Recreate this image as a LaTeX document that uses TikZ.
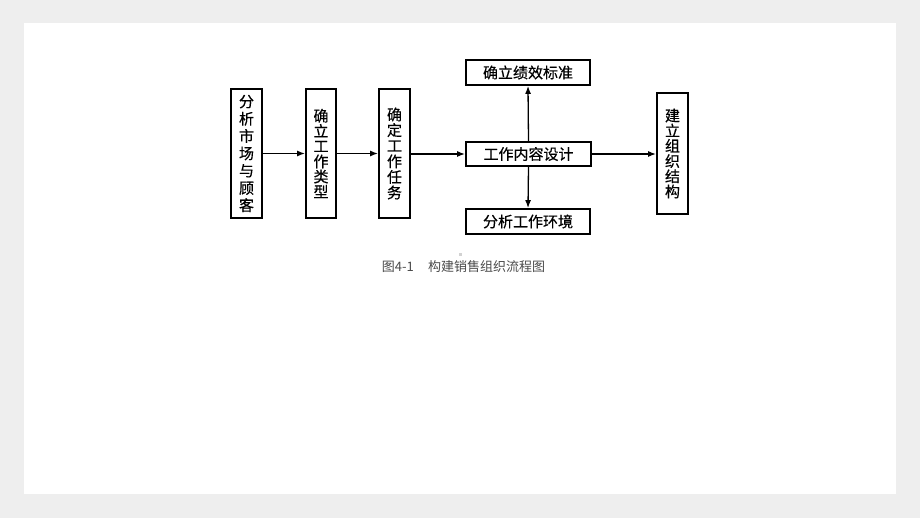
\documentclass[tikz,border=0pt]{standalone}
\usepackage{fontspec}
\setmainfont{Noto Sans CJK SC}
\newfontfamily\boxfont{Noto Sans CJK SC}[FakeBold=0.5]
\usetikzlibrary{arrows.meta}
\definecolor{bggray}{HTML}{EEEEEE}
\definecolor{capgray}{HTML}{4A4A4A}
\tikzset{
  box/.style={draw=black, line width=1.8pt, fill=white, inner sep=0pt, font=\boxfont\fontsize{15}{15}\selectfont, text=black},
  vbox/.style={box, align=center},
  conn/.style={line width=1.3pt, -{Latex[length=8pt,width=6pt]}},
}
\begin{document}
\begin{tikzpicture}[x=1pt,y=-1pt]
\fill[bggray] (0,0) rectangle (920,518);
\fill[white] (24,23) rectangle (896,494);
\useasboundingbox (0,0) rectangle (920,518);

\node[vbox, minimum width=31pt, minimum height=129pt, font=\boxfont\fontsize{15}{17.3}\selectfont] (market) at (246.5,153.5) {分\\析\\市\\场\\与\\顾\\客};
\node[vbox, minimum width=30pt, minimum height=129pt, font=\boxfont\fontsize{15}{15.2}\selectfont] (type) at (321,153.5) {确\\立\\工\\作\\类\\型};
\node[vbox, minimum width=31pt, minimum height=129pt, font=\boxfont\fontsize{15}{15.6}\selectfont] (task) at (394.5,153.5) {确\\定\\工\\作\\任\\务};
\node[box, minimum width=125pt, minimum height=24pt] (design) at (528.5,154) {工作内容设计};
\node[box, minimum width=124pt, minimum height=25pt] (std) at (528,72.5) {确立绩效标准};
\node[box, minimum width=124pt, minimum height=25pt] (env) at (528,221.5) {分析工作环境};
\node[vbox, minimum width=31pt, minimum height=121pt, font=\boxfont\fontsize{15}{15.2}\selectfont] (org) at (672.5,153.5) {建\\立\\组\\织\\结\\构};

\draw[conn] (market.east |- 0,153.5) -- (type.west |- 0,153.5);
\draw[conn] (type.east |- 0,153.5) -- (task.west |- 0,153.5);
\draw[conn] (task.east |- design.west) -- (design.west);
\draw[conn] (design.east) -- (org.west |- design.east);
\draw[conn] (design.north) -- (std.south);
\draw[conn] (design.south) -- (env.north);

\fill[gray!35] (458.5,253.5) rectangle (461.5,256.5);
\node[text=capgray, font=\fontsize{13}{13}\selectfont, inner sep=0pt] (caption) at (463.5,267) {图4-1\hspace{1.1em}构建销售组织流程图};
\end{tikzpicture}
\end{document}
